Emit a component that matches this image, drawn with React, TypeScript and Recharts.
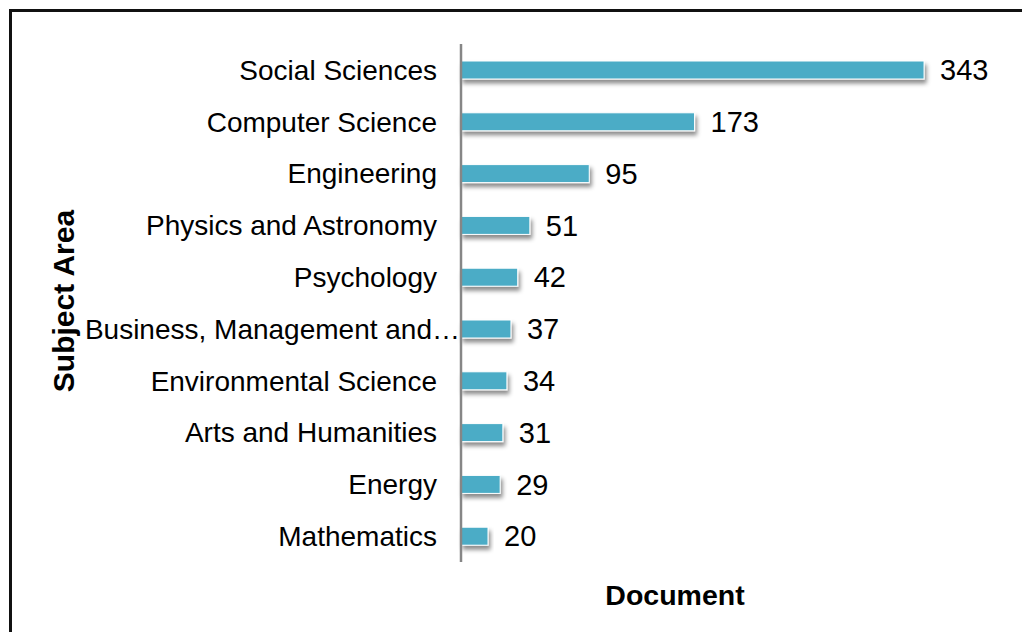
import { BarChart, Bar, XAxis, YAxis, LabelList } from 'recharts';

const subjects = [
  'Social Sciences',
  'Computer Science',
  'Engineering',
  'Physics and Astronomy',
  'Psychology',
  'Business, Management and…',
  'Environmental Science',
  'Arts and Humanities',
  'Energy',
  'Mathematics',
];
const documents = [343, 173, 95, 51, 42, 37, 34, 31, 29, 20];

const data = subjects.map((name, i) => ({ name, value: documents[i] }));

const FONT = '"Liberation Sans", Arial, sans-serif';

// bar with white edge + soft drop shadow like the Excel style
const ShadowBar = (props: any) => {
  const { x, y, width, height } = props;
  if (!width || width <= 0) return null;
  return (
    <rect x={x} y={y} width={width} height={height} fill="#4BACC6" stroke="#ffffff" strokeWidth={1} filter="url(#barShadow)" />
  );
};

// Excel lets the truncated label run over the axis a bit
const CategoryTick = (props: any) => {
  const { x, y, payload } = props;
  const shift = String(payload.value).endsWith('…') ? 23 : 0;
  return (
    <text x={x + shift} y={y} dy="0.355em" textAnchor="end" fontFamily={FONT} fontSize={28} fill="#000">
      {payload.value}
    </text>
  );
};

export default function App() {
  return (
    <div style={{ position: 'fixed', left: 0, top: 0, width: 1022, height: 632, overflow: 'hidden', background: '#fff' }}>
      <style>{'html, body { margin: 0; overflow: hidden; }'}</style>
      {/* outer frame (only top / left edges are in view) */}
      <div style={{ position: 'absolute', left: 9, top: 9, width: 1100, height: 700, borderTop: '3px solid #111', borderLeft: '3px solid #111' }} />
      <div style={{ position: 'absolute', left: 0, top: 0 }}>
        <BarChart
          layout="vertical"
          width={1022}
          height={632}
          data={data}
          margin={{ top: 44, right: 21, bottom: 70, left: 0 }}
          barCategoryGap={0}
        >
          <defs>
            <filter id="barShadow" x="-10%" y="-50%" width="130%" height="250%">
              <feDropShadow dx={2} dy={4} stdDeviation={2} floodColor="#000" floodOpacity={0.45} />
            </filter>
          </defs>
          <XAxis type="number" domain={[0, 400]} hide />
          <YAxis
            type="category"
            dataKey="name"
            width={461}
            tickLine={false}
            tickSize={0}
            tickMargin={24}
            axisLine={{ stroke: '#868686', strokeWidth: 2.5 }}
            tick={<CategoryTick />}
            interval={0}
          />
          <Bar dataKey="value" barSize={18} shape={ShadowBar} isAnimationActive={false}>
            <LabelList dataKey="value" position="right" offset={16} fontSize={29} fill="#000" fontFamily={FONT} />
          </Bar>
          <text x={675} y={605} textAnchor="middle" fontFamily={FONT} fontSize={28.5} fontWeight="bold" fill="#000">
            Document
          </text>
          <text
            x={74}
            y={301}
            transform="rotate(-90 74 301)"
            textAnchor="middle"
            fontFamily={FONT}
            fontSize={30}
            fontWeight="bold"
            fill="#000"
          >
            Subject Area
          </text>
        </BarChart>
      </div>
    </div>
  );
}
